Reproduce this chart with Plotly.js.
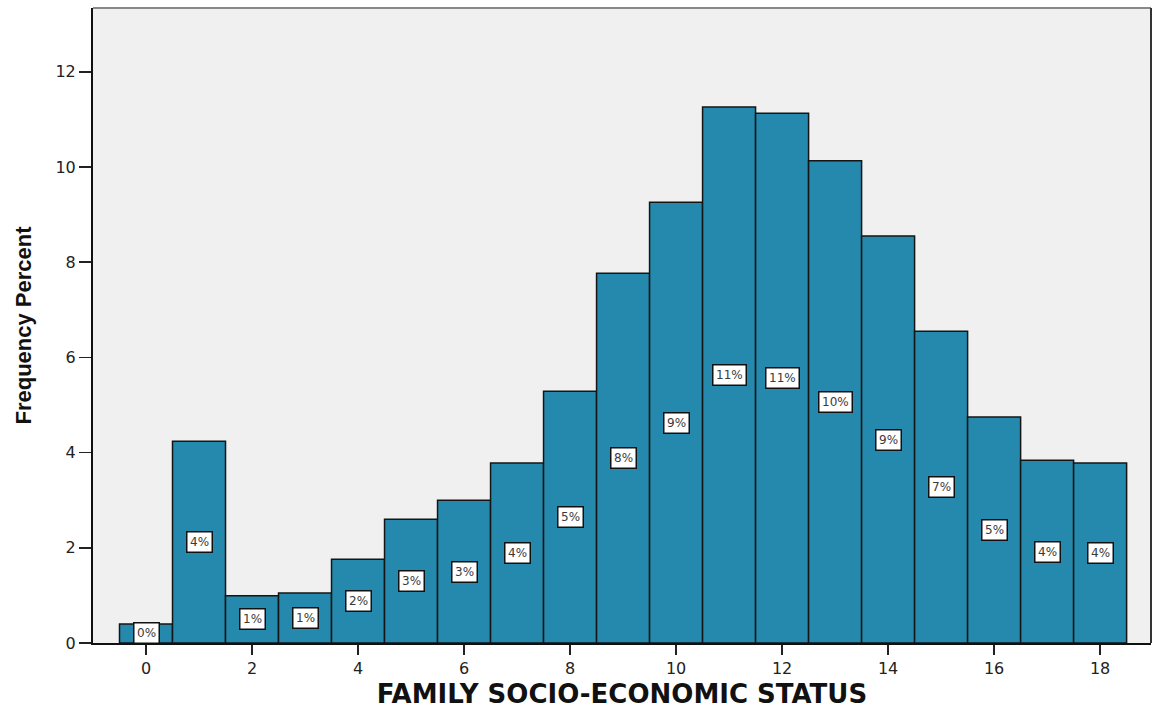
<!DOCTYPE html>
<html>
<head>
<meta charset="utf-8">
<script src="https://cdn.plot.ly/plotly-3.0.1.min.js"></script>
<style>html,body{margin:0;padding:0;background:#fff;}#chart{width:1157px;height:711px;}</style>
</head>
<body>
<div id="chart"></div>
<script>
const statusValues = [0,1,2,3,4,5,6,7,8,9,10,11,12,13,14,15,16,17,18];
const frequencyPercent = [0.40,4.24,0.99,1.05,1.76,2.60,3.00,3.78,5.29,7.77,9.26,11.26,11.13,10.13,8.55,6.55,4.75,3.84,3.78];
const percentLabels = ["0%","4%","1%","1%","2%","3%","3%","4%","5%","8%","9%","11%","11%","10%","9%","7%","5%","4%","4%"];
const tickVals = [0,2,4,6,8,10,12,14,16,18];
const yTickVals = [0,2,4,6,8,10,12];

const trace = {
  type: 'bar',
  x: statusValues,
  y: frequencyPercent,
  width: 1,
  marker: {color: '#2589AD', line: {color: '#151515', width: 1.5}},
  hoverinfo: 'x+y'
};

const annotations = statusValues.map((v, i) => ({
  x: v, y: frequencyPercent[i] / 2, xref: 'x', yref: 'y',
  text: percentLabels[i], showarrow: false,
  font: {family: 'DejaVu Sans, Liberation Sans, Arial, sans-serif', size: 12, color: '#3a3a3a'},
  bgcolor: '#ffffff', bordercolor: '#111', borderwidth: 1.5, borderpad: 2.5
}));

const layout = {
  width: 1157, height: 711,
  margin: {l: 93, r: 6, t: 8, b: 68},
  paper_bgcolor: '#ffffff',
  plot_bgcolor: '#F0F0F0',
  showlegend: false,
  bargap: 0,
  xaxis: {
    range: [-1.0, 18.96],
    tickvals: tickVals,
    ticks: 'outside', ticklen: 10, tickwidth: 2, tickcolor: '#222',
    showline: true, linecolor: '#111', linewidth: 2,
    showgrid: false, zeroline: false,
    tickfont: {family: 'DejaVu Sans, Liberation Sans, Arial, sans-serif', size: 16, color: '#222'},
    title: {text: '<b>FAMILY SOCIO-ECONOMIC STATUS</b>', standoff: 8,
            font: {family: 'DejaVu Sans, Liberation Sans, Arial, sans-serif', size: 26, color: '#111'}}
  },
  yaxis: {
    range: [0, 13.34],
    tickvals: yTickVals,
    ticks: 'outside', ticklen: 12, tickwidth: 1.5, tickcolor: '#222',
    showline: true, linecolor: '#111', linewidth: 2,
    showgrid: false, zeroline: false,
    tickfont: {family: 'DejaVu Sans, Liberation Sans, Arial, sans-serif', size: 16, color: '#222'},
    title: {text: '<b>Frequency Percent</b>', standoff: 18,
            font: {family: 'Liberation Sans Narrow, Liberation Sans, Arial, sans-serif', size: 22, color: '#111'}}
  },
  shapes: [
    {type: 'line', xref: 'paper', yref: 'paper', x0: 0, x1: 1, y0: 1, y1: 1, line: {color: '#888', width: 2}},
    {type: 'line', xref: 'paper', yref: 'paper', x0: 1, x1: 1, y0: 0, y1: 1, line: {color: '#333', width: 2}}
  ],
  annotations: annotations
};

Plotly.newPlot('chart', [trace], layout, {displayModeBar: false, staticPlot: true});
</script>
</body>
</html>
